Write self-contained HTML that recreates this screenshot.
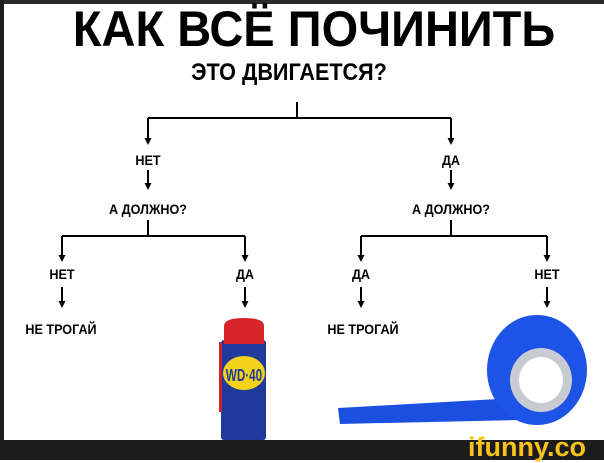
<!DOCTYPE html>
<html><head><meta charset="utf-8"><style>
body{margin:0;width:604px;height:460px;overflow:hidden;background:#fff;position:relative;font-family:"Liberation Sans","Noto Sans CJK SC",sans-serif}
.t{position:absolute;font-weight:bold;color:#000;white-space:nowrap;transform-origin:center}
.s{font-size:14px;transform:scaleX(0.9)}
</style></head><body>
<div style="position:absolute;left:0;top:0;width:604px;height:4px;background:#2a2a2a"></div>
<div style="position:absolute;left:0;top:0;width:4px;height:460px;background:#1c1c1c"></div>
<div style="position:absolute;left:0;top:440px;width:604px;height:20px;background:#1c1c1c"></div>
<div class="t" style="left:0;width:628px;text-align:center;top:0px;font-size:50px;transform:scaleX(0.94)">КАК ВСЁ ПОЧИНИТЬ</div>
<div class="t" style="left:0;width:578px;text-align:center;top:59px;font-size:24px;transform:scaleX(0.9)">ЭТО ДВИГАЕТСЯ?</div>
<svg width="604" height="460" style="position:absolute;left:0;top:0">
<defs><marker id="a" markerWidth="7" markerHeight="7" refX="5" refY="3.5" orient="auto" markerUnits="userSpaceOnUse"><path d="M0,0 L7,3.5 L0,7z" fill="#000"/></marker></defs>
<g stroke="#000" stroke-width="2" fill="none">
<path d="M297,102V118M148,118H451"/>
<path d="M148,118V143" marker-end="url(#a)"/><path d="M451,118V143" marker-end="url(#a)"/>
<path d="M148,170V188" marker-end="url(#a)"/><path d="M451,170V188" marker-end="url(#a)"/>
<path d="M148,220V236M62,236H245M451,220V236M361,236H547"/>
<path d="M62,236V260" marker-end="url(#a)"/><path d="M245,236V260" marker-end="url(#a)"/>
<path d="M361,236V260" marker-end="url(#a)"/><path d="M547,236V260" marker-end="url(#a)"/>
<path d="M62,287V306" marker-end="url(#a)"/><path d="M245,287V306" marker-end="url(#a)"/>
<path d="M361,287V306" marker-end="url(#a)"/><path d="M547,287V306" marker-end="url(#a)"/>
</g>
<rect x="221" y="340" width="45" height="100" rx="3" fill="#1f3a9a"/>
<rect x="219" y="342" width="3" height="70" fill="#c23"/>
<path d="M224,344 L224,326 Q224,318 244,318 Q264,318 264,326 L264,344z" fill="#d8242a"/>
<ellipse cx="244" cy="373" rx="21" ry="17" fill="#f4d21a"/>
<text x="244" y="381" font-family="Liberation Sans" font-weight="bold" font-size="18" fill="#1f3a9a" text-anchor="middle" transform="translate(244 0) scale(0.65 1) translate(-244 0)">WD·40</text>
<path d="M338,408 L515,398 L518,420 L340,424z" fill="#1b4fe0"/>
<ellipse cx="537" cy="370" rx="50" ry="55" fill="#1d53e6"/>
<ellipse cx="541" cy="380" rx="31" ry="32" fill="#c8ccd2"/>
<ellipse cx="541" cy="380" rx="22" ry="23" fill="#fff"/>
</svg>
<div class="t s" style="left:128px;top:152px;width:40px;text-align:center">НЕТ</div>
<div class="t s" style="left:431px;top:152px;width:40px;text-align:center">ДА</div>
<div class="t s" style="left:88px;top:201px;width:120px;text-align:center">А ДОЛЖНО?</div>
<div class="t s" style="left:391px;top:201px;width:120px;text-align:center">А ДОЛЖНО?</div>
<div class="t s" style="left:42px;top:266px;width:40px;text-align:center">НЕТ</div>
<div class="t s" style="left:225px;top:266px;width:40px;text-align:center">ДА</div>
<div class="t s" style="left:341px;top:266px;width:40px;text-align:center">ДА</div>
<div class="t s" style="left:527px;top:266px;width:40px;text-align:center">НЕТ</div>
<div class="t s" style="left:11px;top:321px;width:100px;text-align:center">НЕ ТРОГАЙ</div>
<div class="t s" style="left:313px;top:321px;width:100px;text-align:center">НЕ ТРОГАЙ</div>
<div class="t" style="left:468px;top:432px;font-size:27px;color:#f8c21c">ifunny.co</div>
</body></html>
